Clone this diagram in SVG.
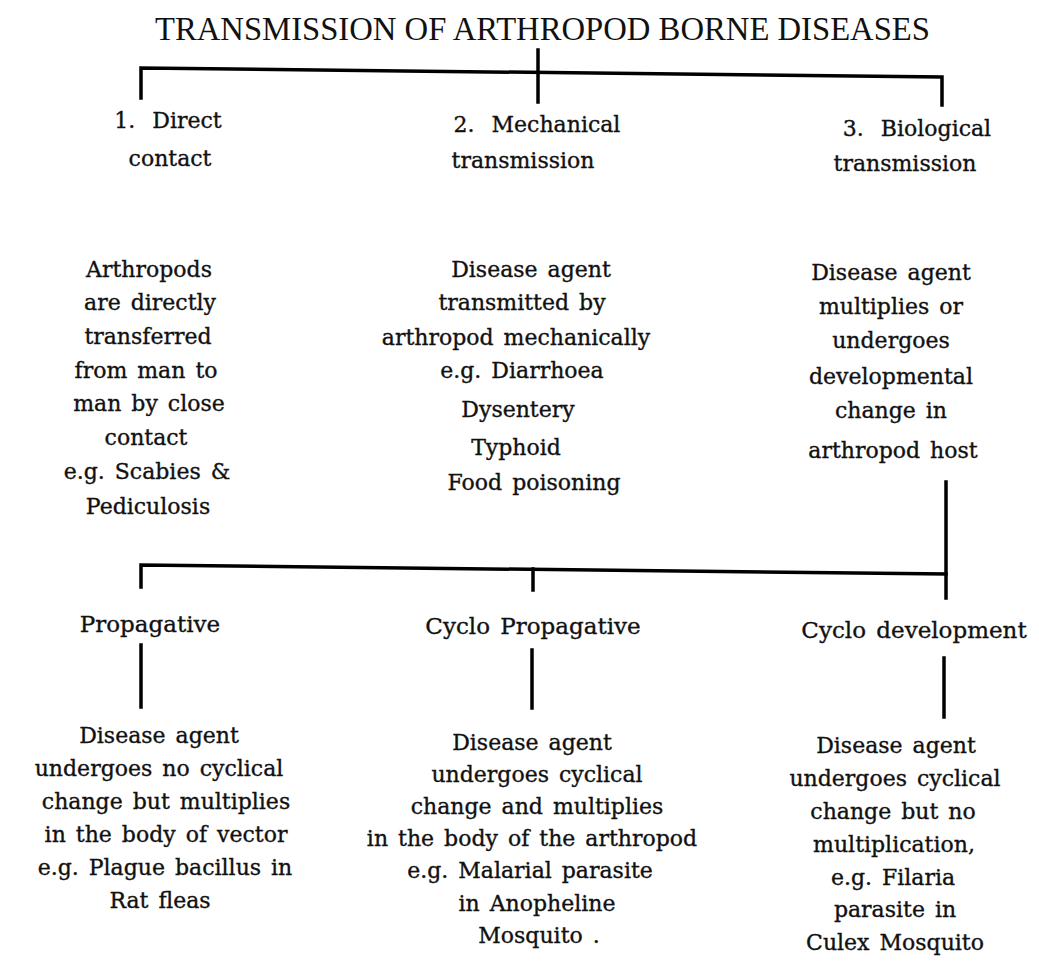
<svg xmlns="http://www.w3.org/2000/svg" width="1039" height="966" viewBox="0 0 1039 966">
<style>
.t{font-family:"DejaVu Serif","Liberation Serif",serif;font-size:22px;fill:#111;stroke:#111;stroke-width:0.35;text-anchor:middle;word-spacing:3px}
.ttl{font-family:"Liberation Serif",serif;font-size:33px;fill:#111}
.ln{stroke:#000;stroke-width:3.5;fill:none;stroke-linecap:square}
</style>
<rect width="1039" height="966" fill="#fff"/>
<text class="ttl" x="155" y="40" textLength="775" lengthAdjust="spacingAndGlyphs">TRANSMISSION OF ARTHROPOD BORNE DISEASES</text>
<g id="connectors">
<polyline class="ln" points="141,98 141,68 942,77 942,105"/>
<line class="ln" x1="538" y1="50" x2="538" y2="102"/>
<line class="ln" x1="946" y1="482" x2="946" y2="598"/>
<polyline class="ln" points="141,587 141,565 946,574"/>
<line class="ln" x1="533" y1="569" x2="533" y2="590"/>
<line class="ln" x1="141" y1="645" x2="141" y2="707"/>
<line class="ln" x1="532" y1="650" x2="532" y2="708"/>
<line class="ln" x1="944" y1="658" x2="944" y2="717"/>
</g>
<g id="direct">
<text class="t" style="word-spacing:10px"><tspan x="168" y="128">1. Direct</tspan><tspan x="170" y="166" style="word-spacing:3px">contact</tspan></text>
</g>
<g id="mechanical">
<text class="t" style="word-spacing:10px"><tspan x="537" y="132">2. Mechanical</tspan><tspan x="523" y="168">transmission</tspan></text>
</g>
<g id="biological">
<text class="t" style="word-spacing:10px"><tspan x="917" y="136">3. Biological</tspan><tspan x="905" y="171">transmission</tspan></text>
</g>
<g id="direct-desc">
<text class="t"><tspan x="149" y="277">Arthropods</tspan><tspan x="150" y="310">are directly</tspan><tspan x="148" y="344">transferred</tspan><tspan x="146" y="378">from man to</tspan><tspan x="149" y="411">man by close</tspan><tspan x="146" y="445">contact</tspan><tspan x="147" y="479">e.g. Scabies &amp;</tspan><tspan x="148" y="514">Pediculosis</tspan></text>
</g>
<g id="mechanical-desc">
<text class="t"><tspan x="531" y="277">Disease agent</tspan><tspan x="522" y="310">transmitted by</tspan><tspan x="516" y="345">arthropod mechanically</tspan><tspan x="522" y="378">e.g. Diarrhoea</tspan><tspan x="518" y="417">Dysentery</tspan><tspan x="516" y="455">Typhoid</tspan><tspan x="534" y="490">Food poisoning</tspan></text>
</g>
<g id="biological-desc">
<text class="t"><tspan x="891" y="280">Disease agent</tspan><tspan x="891" y="314">multiplies or</tspan><tspan x="891" y="348">undergoes</tspan><tspan x="891" y="384">developmental</tspan><tspan x="891" y="418">change in</tspan><tspan x="893" y="458">arthropod host</tspan></text>
</g>
<g id="propagative">
<text class="t" x="150" y="632" style="font-size:23px">Propagative</text>
</g>
<g id="cyclo-propagative">
<text class="t" x="533" y="634" style="font-size:23px">Cyclo Propagative</text>
</g>
<g id="cyclo-development">
<text class="t" x="914" y="638" style="font-size:23px">Cyclo development</text>
</g>
<g id="propagative-desc">
<text class="t"><tspan x="159" y="743">Disease agent</tspan><tspan x="159" y="776">undergoes no cyclical</tspan><tspan x="166" y="809">change but multiplies</tspan><tspan x="166" y="842">in the body of vector</tspan><tspan x="165" y="875">e.g. Plague bacillus in</tspan><tspan x="160" y="908">Rat fleas</tspan></text>
</g>
<g id="cyclo-propagative-desc">
<text class="t"><tspan x="532" y="750">Disease agent</tspan><tspan x="537" y="782">undergoes cyclical</tspan><tspan x="537" y="814">change and multiplies</tspan><tspan x="532" y="846">in the body of the arthropod</tspan><tspan x="530" y="878">e.g. Malarial parasite</tspan><tspan x="537" y="911">in Anopheline</tspan><tspan x="539" y="943">Mosquito .</tspan></text>
</g>
<g id="cyclo-development-desc">
<text class="t"><tspan x="896" y="753">Disease agent</tspan><tspan x="895" y="786">undergoes cyclical</tspan><tspan x="893" y="819">change but no</tspan><tspan x="894" y="852">multiplication,</tspan><tspan x="893" y="885">e.g. Filaria</tspan><tspan x="895" y="917">parasite in</tspan><tspan x="895" y="950">Culex Mosquito</tspan></text>
</g>
</svg>
